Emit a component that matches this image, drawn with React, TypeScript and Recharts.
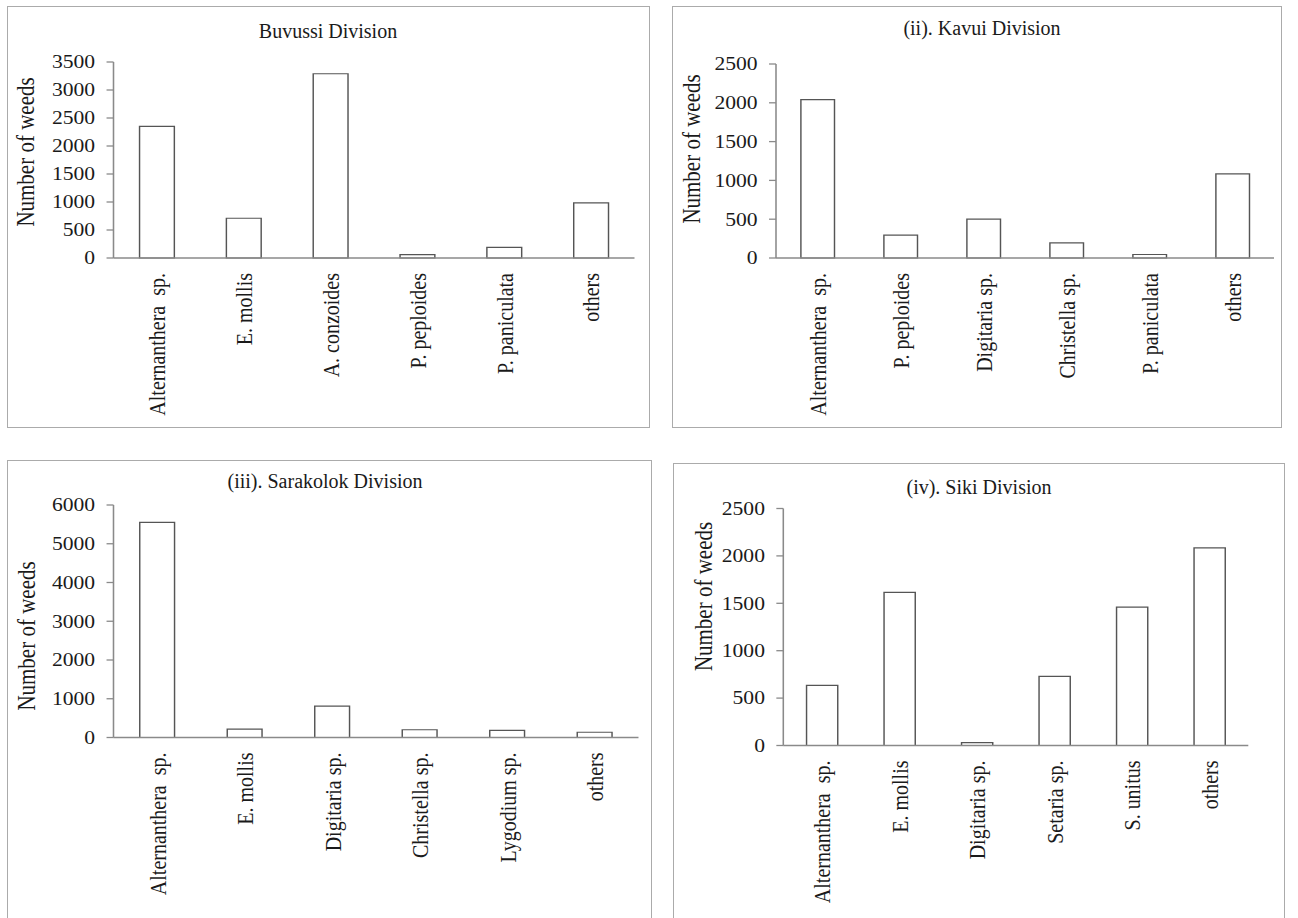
import React from 'react';
import { BarChart, Bar, XAxis, YAxis, Label } from 'recharts';

// Each chart body is drawn narrower and stretched horizontally by this factor.
const SX = 1.2;

const FONT = '"Liberation Serif", "Times New Roman", serif';
const TEXT = '#1a1a1a';
const AXIS = '#8a8a8a';
const BAR_EDGE = '#555555';
const BORDER = '#ababab';

// (i) Buvussi Division
const buvussiCategories = ['Alternanthera  sp.', 'E. mollis', 'A. conzoides', 'P. peploides', 'P. paniculata', 'others'];
const buvussiCounts = [2350, 710, 3290, 60, 190, 985];
const buvussiTicks = [0, 500, 1000, 1500, 2000, 2500, 3000, 3500];

// (ii) Kavui Division
const kavuiCategories = ['Alternanthera  sp.', 'P. peploides', 'Digitaria sp.', 'Christella sp.', 'P. paniculata', 'others'];
const kavuiCounts = [2040, 295, 500, 195, 45, 1085];
const kavuiTicks = [0, 500, 1000, 1500, 2000, 2500];

// (iii) Sarakolok Division
const sarakolokCategories = ['Alternanthera  sp.', 'E. mollis', 'Digitaria sp.', 'Christella sp.', 'Lygodium sp.', 'others'];
const sarakolokCounts = [5550, 215, 810, 200, 185, 135];
const sarakolokTicks = [0, 1000, 2000, 3000, 4000, 5000, 6000];

// (iv) Siki Division
const sikiCategories = ['Alternanthera  sp.', 'E. mollis', 'Digitaria sp.', 'Setaria sp.', 'S. unitus', 'others'];
const sikiCounts = [635, 1615, 30, 730, 1460, 2085];
const sikiTicks = [0, 500, 1000, 1500, 2000, 2500];

type Box = { left: number; top: number; right: number; bottom: number };

type PanelProps = {
  title: string;
  titleAt: { x: number; y: number }; // centre of the title, page px
  categories: string[];
  counts: number[];
  ticks: number[];
  box: Box; // panel border, page px
  plot: Box; // plotting area, page px
  yLabel: { x: number; y: number };
  frame?: boolean;
};

const CategoryTick = (props: any) => {
  const { x, y, payload } = props;
  return (
    <g transform={`translate(${x},${y + 15}) rotate(-90)`}>
      <text
        x={0}
        y={0}
        dy="0.35em"
        textAnchor="end"
        fill={TEXT}
        fontSize={20}
        fontFamily={FONT}
        style={{ whiteSpace: 'pre' }}
      >
        {payload.value}
      </text>
    </g>
  );
};

function Panel({ title, titleAt, categories, counts, ticks, box, plot, yLabel, frame }: PanelProps) {
  const width = box.right - box.left;
  const height = box.bottom - box.top;
  const localW = width / SX;
  const axisW = (plot.left - box.left) / SX;
  const marginRight = localW - (plot.right - box.left) / SX;
  const marginTop = plot.top - box.top;
  const xAxisH = height - (plot.bottom - box.top);
  const data = categories.map((name, i) => ({ name, count: counts[i] }));
  const maxTick = ticks[ticks.length - 1];
  const labelX = (yLabel.x - box.left) / SX;
  const labelY = yLabel.y - box.top;

  return (
    <>
      <div
        style={{
          position: 'absolute',
          left: box.left,
          top: box.top,
          width,
          height,
          border: `1.5px solid ${BORDER}`,
          boxSizing: 'border-box',
        }}
      />
      <div
        style={{
          position: 'absolute',
          left: titleAt.x,
          top: titleAt.y - 12,
          transform: 'translateX(-50%)',
          whiteSpace: 'nowrap',
          lineHeight: '24px',
          fontSize: 20,
          fontFamily: FONT,
          color: TEXT,
        }}
      >
        {title}
      </div>
      <div
        style={{
          position: 'absolute',
          left: box.left,
          top: box.top,
          width: localW,
          height,
          transform: `scaleX(${SX})`,
          transformOrigin: '0 0',
        }}
      >
        <BarChart
          width={localW}
          height={height}
          data={data}
          margin={{ top: marginTop, right: marginRight, bottom: 0, left: 0 }}
          barCategoryGap="30%"
        >
          <XAxis
            dataKey="name"
            interval={0}
            height={xAxisH}
            tickLine={false}
            tickSize={0}
            tickMargin={0}
            axisLine={{ stroke: AXIS, strokeWidth: 1.3 }}
            tick={<CategoryTick />}
          />
          <YAxis
            type="number"
            domain={[0, maxTick]}
            ticks={ticks}
            interval={0}
            width={axisW}
            tickSize={5.8}
            tickMargin={9.5}
            axisLine={{ stroke: AXIS, strokeWidth: 1.3 }}
            tickLine={{ stroke: AXIS, strokeWidth: 1.3 }}
            tick={{ fill: TEXT, fontSize: 18, fontFamily: FONT }}
          >
            <Label
              content={() => (
                <text
                  x={labelX}
                  y={labelY}
                  dy="0.35em"
                  textAnchor="middle"
                  transform={`rotate(-90, ${labelX}, ${labelY})`}
                  fill={TEXT}
                  fontSize={21}
                  fontFamily={FONT}
                >
                  Number of weeds
                </text>
              )}
            />
          </YAxis>
          {frame && (
            <XAxis
              xAxisId="frame"
              orientation="top"
              dataKey="name"
              height={0}
              tick={false}
              tickLine={false}
              axisLine={{ stroke: '#c9c9c9', strokeWidth: 1.3 }}
            />
          )}
          {frame && (
            <YAxis
              yAxisId="frame"
              orientation="right"
              type="number"
              domain={[0, maxTick]}
              width={0}
              tick={false}
              tickLine={false}
              axisLine={{ stroke: '#c9c9c9', strokeWidth: 1.3 }}
            />
          )}
          <Bar
            dataKey="count"
            fill="#ffffff"
            stroke={BAR_EDGE}
            strokeWidth={1.2}
            isAnimationActive={false}
          />
        </BarChart>
      </div>
    </>
  );
}

export default function App() {
  return (
    <div
      style={{
        position: 'absolute',
        left: 0,
        top: 0,
        width: 1298,
        height: 918,
        overflow: 'hidden',
        background: '#ffffff',
      }}
    >
      <Panel
        title="Buvussi Division"
        titleAt={{ x: 328, y: 31 }}
        categories={buvussiCategories}
        counts={buvussiCounts}
        ticks={buvussiTicks}
        box={{ left: 6.5, top: 6, right: 650, bottom: 428 }}
        plot={{ left: 113, top: 62, right: 634, bottom: 258 }}
        yLabel={{ x: 25, y: 152 }}
      />
      <Panel
        title="(ii). Kavui Division"
        titleAt={{ x: 982, y: 28 }}
        categories={kavuiCategories}
        counts={kavuiCounts}
        ticks={kavuiTicks}
        box={{ left: 672, top: 6, right: 1282, bottom: 428 }}
        plot={{ left: 776, top: 64, right: 1274, bottom: 258 }}
        yLabel={{ x: 691.5, y: 149 }}
      />
      <Panel
        title="(iii). Sarakolok Division"
        titleAt={{ x: 325, y: 481 }}
        categories={sarakolokCategories}
        counts={sarakolokCounts}
        ticks={sarakolokTicks}
        box={{ left: 6.5, top: 460, right: 652, bottom: 930 }}
        plot={{ left: 113, top: 505, right: 638, bottom: 737.5 }}
        yLabel={{ x: 26, y: 636 }}
      />
      <Panel
        title="(iv). Siki Division"
        titleAt={{ x: 979, y: 487 }}
        categories={sikiCategories}
        counts={sikiCounts}
        ticks={sikiTicks}
        box={{ left: 672.7, top: 462.5, right: 1285, bottom: 930 }}
        plot={{ left: 783, top: 508, right: 1248, bottom: 745 }}
        yLabel={{ x: 703, y: 596 }}
        frame
      />
    </div>
  );
}
